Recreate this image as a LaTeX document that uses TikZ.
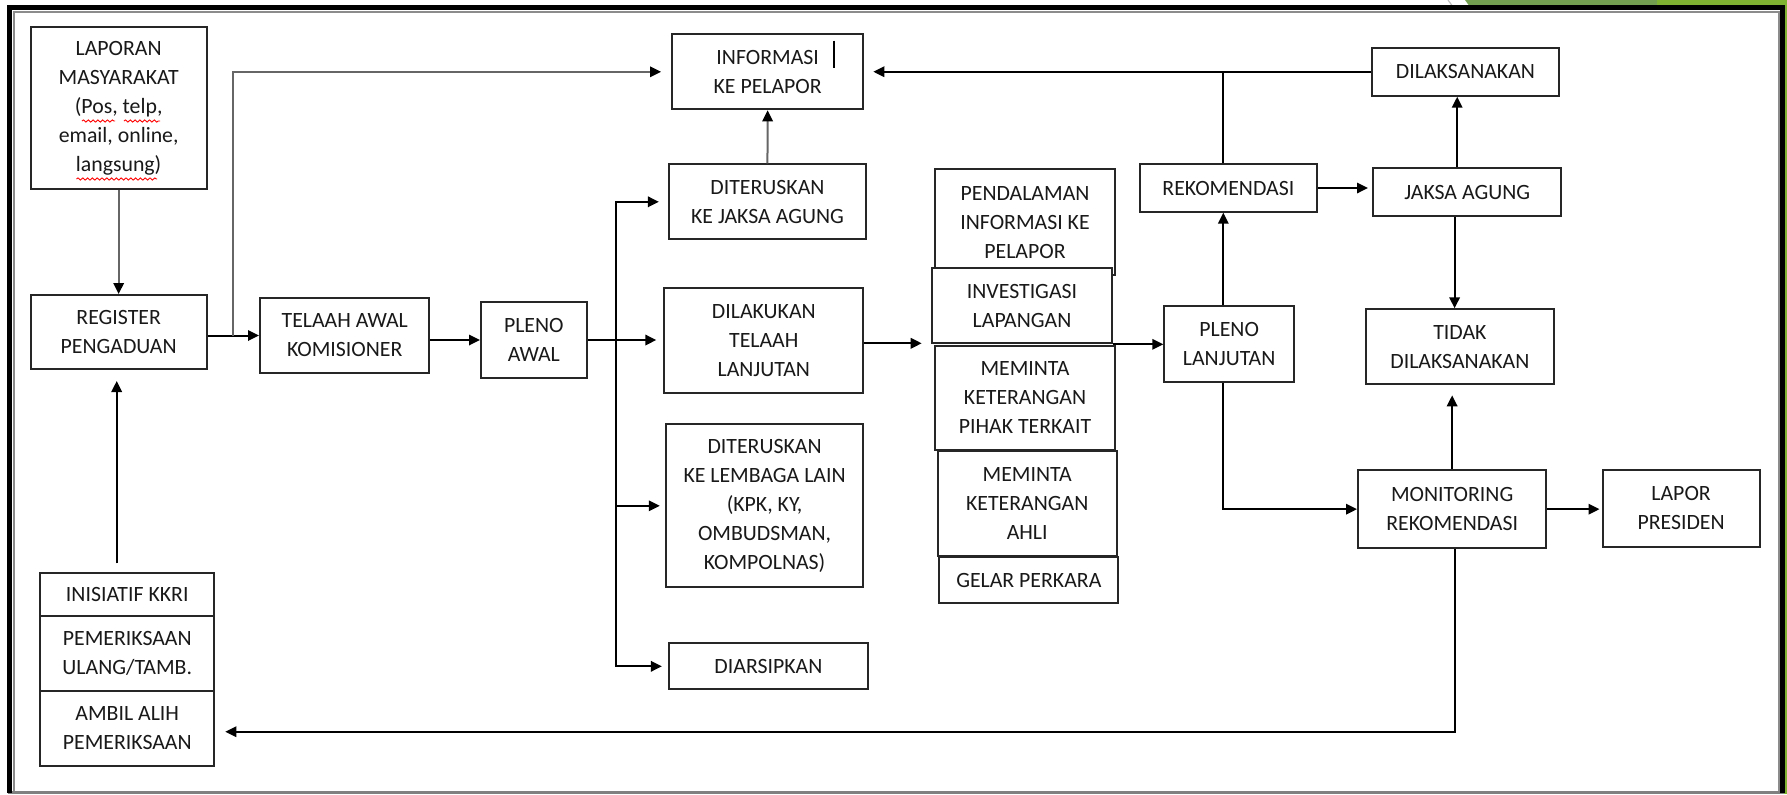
\documentclass[tikz,border=0pt]{standalone}
\usepackage{fontspec}
\setmainfont{Carlito}
\usetikzlibrary{arrows.meta,decorations.pathmorphing}
\newcommand\fsz{\fontsize{10.9pt}{14.5pt}\selectfont}
\definecolor{dgreen}{RGB}{114,160,80}
\definecolor{bgreen}{RGB}{128,178,50}
\newcommand\kbox[6]{%
  \pgfmathsetmacro\bw{(#4-#2)*0.5}%
  \pgfmathsetmacro\bh{(#5-#3)*0.5}%
  \node[box, minimum width=\bw pt, minimum height=\bh pt] (#1) at ({(#2+#4)/2},{(#3+#5)/2}) {#6};}
\tikzset{
  box/.style={draw=black!85, line width=1pt, fill=white, align=center, inner sep=2pt, font=\fsz, text=black!90},
  conn/.style={line width=1pt, draw=black},
  arrow/.style={conn, -{Triangle[length=5.5pt,width=5.2pt]}},
  arrowg/.style={line width=1pt, draw=black!60, -{Triangle[length=5.5pt,width=5.2pt,color=black]}},
  wavy/.style={draw=red, line width=0.45pt, decorate, decoration={snake, segment length=2.4pt, amplitude=0.55pt}}
}
\begin{document}
\begin{tikzpicture}[x=0.5pt,y=-0.5pt]
\useasboundingbox (0,0) rectangle (1787,794);
% decoration outside frame
\fill[dgreen] (1465,0) -- (1657,0) -- (1657,5.5) -- (1469,5.5) -- cycle;
\fill[bgreen] (1657,0) rectangle (1787,5.5);
\fill[bgreen] (1783,0) rectangle (1787,794);
\draw[black!25, line width=0.6pt] (1448,0) -- (1452,5.5);
% frame
\draw[black!45, line width=1pt] (13.5,792) -- (13.5,11.5) -- (1778.5,11.5) -- (1778.5,792);
\draw[black!50, line width=1.5pt] (8,792.3) -- (1784,792.3);
\draw[black, line width=2.5pt] (9.8,793) -- (9.8,7.5) -- (1782,7.5) -- (1782,793);

% boxes
\kbox{lap}{30.6}{26.7}{206.7}{189.3}{LAPORAN\\MASYARAKAT\\(Pos, telp,\\email, online,\\langsung)}
\kbox{reg}{30.6}{295}{206.7}{369}{REGISTER\\PENGADUAN}
\kbox{tel}{260}{298}{429.4}{373}{TELAAH AWAL\\KOMISIONER}
\kbox{pla}{481}{302}{586.7}{378}{PLENO\\AWAL}
\kbox{inf}{672}{34.3}{863.3}{109.3}{INFORMASI\\KE PELAPOR}
\kbox{dja}{668.9}{164.3}{866}{239.3}{DITERUSKAN\\KE JAKSA AGUNG}
\kbox{dil}{664.3}{287.7}{863.3}{393.3}{DILAKUKAN\\TELAAH\\LANJUTAN}
\kbox{dll}{665.8}{424.3}{863.3}{587.3}{DITERUSKAN\\KE LEMBAGA LAIN\\(KPK, KY,\\OMBUDSMAN,\\KOMPOLNAS)}
\kbox{ars}{668.9}{643.3}{867.9}{689.3}{DIARSIPKAN}
\kbox{pen}{935}{169.3}{1115}{275}{PENDALAMAN\\INFORMASI KE\\PELAPOR}
\kbox{inv}{931.7}{268.3}{1112.3}{343.3}{INVESTIGASI\\LAPANGAN}
\kbox{mpk}{935}{345.7}{1115}{450}{MEMINTA\\KETERANGAN\\PIHAK TERKAIT}
\kbox{mka}{937.7}{451}{1116.7}{556}{MEMINTA\\KETERANGAN\\AHLI}
\kbox{gel}{939.3}{556.7}{1118.3}{603.3}{GELAR PERKARA}
\kbox{plj}{1164.3}{306}{1294}{382.3}{PLENO\\LANJUTAN}
\kbox{rek}{1140}{164.3}{1316.7}{211.7}{REKOMENDASI}
\kbox{dlk}{1371.5}{47.7}{1559.4}{95.7}{DILAKSANAKAN}
\kbox{jag}{1373}{168.3}{1561.3}{215.7}{JAKSA AGUNG}
\kbox{tdk}{1365.9}{309.3}{1553.8}{384.3}{TIDAK\\DILAKSANAKAN}
\kbox{mon}{1358}{470}{1546.3}{548.3}{MONITORING\\REKOMENDASI}
\kbox{lpr}{1602.5}{470}{1759.7}{546.7}{LAPOR\\PRESIDEN}
\kbox{ini}{40.2}{573.3}{214.3}{616}{INISIATIF KKRI}
\kbox{pem}{40.2}{616}{214.3}{690.7}{PEMERIKSAAN\\ULANG/TAMB.}
\kbox{amb}{40.2}{690.7}{214.3}{765.7}{AMBIL ALIH\\PEMERIKSAAN}

% spell-check underlines and cursor
\draw[wavy] (82,121) -- (115,121);
\draw[wavy] (124,121) -- (160,121);
\draw[wavy] (76.5,179) -- (157,179);
\draw[black, line width=0.8pt] (834.2,40.7) -- (834.2,67.7);

% connectors
\coordinate (b1) at (233.4,335.5);
\coordinate (b2) at (616,340);
\coordinate (stin) at (921.7,343.3);
\coordinate (vx) at (1223.3,0);
\coordinate (vj1) at (1457.2,0);
\coordinate (vj2) at (1454.6,0);
\coordinate (c2) at (1454.6,731.7);
\coordinate (vl) at (116.7,0);

\draw[arrowg] (lap.south) -- (reg.north);
\draw[arrow] (reg.east |- tel.west) -- (tel.west);
\draw[arrowg, shorten >=5pt] (b1) |- (inf.west);
\draw[arrow] (tel.east |- pla.west) -- (pla.west);
\draw[arrow, shorten >=3.5pt] (pla.east) -- (pla.east -| dil.west);
\draw[arrow, shorten >=4.5pt] (b2) |- (dja.west);
\draw[arrow, shorten >=2.5pt] (b2) |- (dll.west);
\draw[arrow, shorten >=3pt] (b2) |- (ars.west);
\draw[arrowg] (dja.north) -- (inf.south);
\draw[arrow] (dil.east |- stin) -- (stin);
\draw[arrow] (inv.south east) -- (inv.south east -| plj.west);
\draw[arrow] (plj.north -| vx) -- (rek.south -| vx);
\draw[conn] (rek.north -| vx) -- (vx |- dlk.west);
\draw[arrow, shorten >=4.5pt] (dlk.west) -- (dlk.west -| inf.east);
\draw[arrow, shorten >=2pt] (rek.east) -- (rek.east -| jag.west);
\draw[arrow] (jag.north -| vj1) -- (dlk.south -| vj1);
\draw[arrow] (jag.south -| vj2) -- (tdk.north -| vj2);
\draw[arrow, shorten >=5pt] (mon.north) -- (mon.north |- tdk.south);
\draw[arrow] (plj.south -| vx) |- (mon.west);
\draw[arrow, shorten >=1pt] (mon.east) -- (mon.east -| lpr.west);
\draw[arrow, shorten >=5pt] (mon.south -| c2) -- (c2) -- (c2 -| amb.east);
\draw[arrow, shorten <=4.5pt, shorten >=5.5pt] (ini.north -| vl) -- (reg.south -| vl);
\end{tikzpicture}
\end{document}
